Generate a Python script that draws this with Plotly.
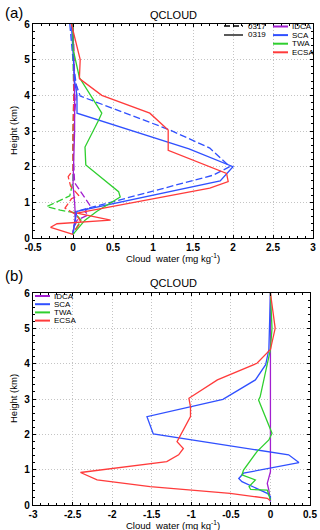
import plotly.graph_objects as go

# ---- data ----
regions = ["IDCA", "SCA", "TWA", "ECSA"]
colors = ["#a21fd0", "#3050ff", "#2fcf2f", "#ff3b3b"]
dates = ["0317", "0319"]

# (a) 0319, solid
idca_0319_x = [0.0, 0.01, 0.02, 0.02, 0.01, 0.0, 0.02, 0.03, 0.01, 0.0]
idca_0319_h = [6.0, 5.0, 4.0, 3.0, 2.0, 1.5, 1.0, 0.6, 0.3, 0.1]
sca_0319_x = [-0.02, 0.0, 0.02, 0.05, 0.05, 1.45, 2.0, 1.84, 0.05, 0.02, 0.0]
sca_0319_h = [6.0, 5.0, 4.4, 4.0, 3.5, 2.5, 2.0, 1.6, 0.75, 0.4, 0.1]
twa_0319_x = [0.0, 0.0, 0.08, 0.36, 0.32, 0.15, 0.16, 0.57, 0.59, 0.3, 0.15, 0.05, 0.0]
twa_0319_h = [6.0, 5.3, 4.5, 3.5, 3.3, 2.55, 2.05, 1.3, 1.15, 0.75, 0.5, 0.22, 0.1]
ecsa_0319_x = [-0.02, 0.09, 0.08, 0.36, 0.96, 1.19, 1.19, 1.92, 1.94, 1.71, 0.05, 0.47, -0.2, -0.28, 0.0]
ecsa_0319_h = [6.0, 5.0, 4.47, 4.0, 3.5, 3.03, 2.46, 1.81, 1.58, 1.4, 0.7, 0.5, 0.4, 0.3, 0.1]

# (a) 0317, dashed
idca_0317_x = [0.0, 0.02, 0.05, 0.02, 0.0, 0.02, 0.21, 0.15, 0.19, 0.05, 0.0, 0.0]
idca_0317_h = [6.0, 4.5, 4.2, 3.5, 2.5, 1.55, 0.92, 0.74, 0.65, 0.5, 0.2, 0.1]
sca_0317_x = [-0.04, 0.0, 0.04, 0.09, 1.21, 1.71, 1.96, 1.75, 0.03, 0.02, 0.0]
sca_0317_h = [6.0, 5.0, 4.3, 3.98, 3.03, 2.52, 2.0, 1.76, 0.74, 0.4, 0.1]
twa_0317_x = [0.0, 0.0, 0.01, 0.0, 0.0, 0.0, -0.02, -0.04, -0.33, -0.16, 0.02, 0.1, 0.02, 0.0]
twa_0317_h = [6.0, 5.0, 4.0, 3.0, 2.0, 1.6, 1.39, 1.18, 0.88, 0.78, 0.71, 0.5, 0.2, 0.1]
ecsa_0317_x = [0.0, 0.01, 0.01, 0.0, 0.0, 0.0, -0.06, -0.03, 0.07, -0.02, -0.1, 0.04, 0.1, 0.02, 0.0]
ecsa_0317_h = [6.0, 5.0, 4.0, 3.0, 2.0, 1.9, 1.72, 1.45, 1.2, 1.1, 0.84, 0.65, 0.45, 0.2, 0.1]

# (b) difference
idca_diff_x = [0.0, 0.0, -0.04, -0.02, 0.0]
idca_diff_h = [6.0, 0.94, 0.61, 0.42, 0.1]
sca_diff_x = [0.0, -0.02, -0.06, -0.19, -0.6, -1.56, -1.48, 0.23, 0.36, 0.0, -0.34, -0.4, -0.36, -0.04, 0.0, 0.0]
sca_diff_h = [6.0, 4.4, 3.97, 3.54, 2.99, 2.5, 2.01, 1.42, 1.2, 1.04, 0.9, 0.75, 0.66, 0.33, 0.24, 0.1]
twa_diff_x = [0.0, 0.02, 0.0, -0.13, -0.15, 0.02, -0.02, -0.17, -0.34, -0.36, -0.19, -0.27, -0.25, -0.04, 0.0]
twa_diff_h = [6.0, 5.0, 4.4, 3.06, 2.97, 2.03, 1.84, 1.51, 0.99, 0.85, 0.71, 0.52, 0.44, 0.42, 0.14]
ecsa_diff_x = [0.0, 0.06, 0.0, -0.17, -0.67, -1.03, -1.01, -1.01, -1.18, -1.1, -1.16, -1.31, -2.4, -2.19, -1.52, -0.51, -0.04, 0.0]
ecsa_diff_h = [6.0, 5.0, 4.4, 4.01, 3.54, 3.02, 2.78, 2.5, 1.79, 1.6, 1.42, 1.23, 0.92, 0.71, 0.52, 0.33, 0.19, 0.12]

xticks_a = [-0.5, 0, 0.5, 1, 1.5, 2, 2.5, 3]
xticks_b = [-3, -2.5, -2, -1.5, -1, -0.5, 0, 0.5]
yticks = [0, 1, 2, 3, 4, 5, 6]

a_0317 = [(idca_0317_x, idca_0317_h), (sca_0317_x, sca_0317_h), (twa_0317_x, twa_0317_h), (ecsa_0317_x, ecsa_0317_h)]
a_0319 = [(idca_0319_x, idca_0319_h), (sca_0319_x, sca_0319_h), (twa_0319_x, twa_0319_h), (ecsa_0319_x, ecsa_0319_h)]
b_diff = [(idca_diff_x, idca_diff_h), (sca_diff_x, sca_diff_h), (twa_diff_x, twa_diff_h), (ecsa_diff_x, ecsa_diff_h)]

W, H = 320, 530
ML, MR, MT, MB = 33, 7, 24, 25
PW, PH = W - ML - MR, H - MT - MB

def px(x):
    return (x - ML) / PW

def py(y):
    return (H - MB - y) / PH

fig = go.Figure()
for i, (xs, hs) in enumerate(a_0317):
    fig.add_trace(go.Scatter(x=xs, y=hs, mode='lines', xaxis='x', yaxis='y',
                             line=dict(color=colors[i], width=1.3, dash='7px,3px'),
                             showlegend=False, name=regions[i] + ' ' + dates[0]))
for i, (xs, hs) in enumerate(a_0319):
    fig.add_trace(go.Scatter(x=xs, y=hs, mode='lines', xaxis='x', yaxis='y',
                             line=dict(color=colors[i], width=1.3),
                             showlegend=False, name=regions[i] + ' ' + dates[1]))
for i, (xs, hs) in enumerate(b_diff):
    fig.add_trace(go.Scatter(x=xs, y=hs, mode='lines', xaxis='x2', yaxis='y2',
                             line=dict(color=colors[i], width=1.3),
                             showlegend=False, name=regions[i]))

tickfont = dict(family='Liberation Sans', size=10, color='black', weight='bold')
common = dict(showline=True, linecolor='black', linewidth=1.2, mirror='ticks',
              ticks='inside', ticklen=3, tickcolor='black', tickfont=tickfont,
              showgrid=True, gridcolor='#c4c4c4', griddash='1px,2px', gridwidth=1,
              zeroline=False, automargin=False,
              minor=dict(ticks='inside', ticklen=2, tickcolor='black', showgrid=False))

ya_bottom = py(238)
yb_top = py(293)
fig.update_layout(
    width=W, height=H,
    margin=dict(l=ML, r=MR, t=MT, b=MB, autoexpand=False),
    plot_bgcolor='white', paper_bgcolor='white',
    showlegend=False,
    xaxis=dict(domain=[0, 1], anchor='y', range=[-0.5, 3], tickvals=xticks_a,
               ticktext=[('%g' % v) for v in xticks_a], ticklabelstandoff=0, **common),
    yaxis=dict(domain=[ya_bottom, 1], anchor='x', range=[0, 6], tickvals=yticks, **common),
    xaxis2=dict(domain=[0, px(310)], anchor='y2', range=[-3, 0.5], tickvals=xticks_b,
                ticktext=[('%g' % v) for v in xticks_b], ticklabelstandoff=0, **common),
    yaxis2=dict(domain=[0, yb_top], anchor='x2', range=[0, 6], tickvals=yticks, **common),
)
fig.update_xaxes(minor_dtick=0.1)
fig.update_yaxes(minor_dtick=0.2)

lab = dict(family='Liberation Sans', size=9.5, color='black')
anns = []
for tag, ty, qy, xl_y, ax_top, ax_bot in [('(a)', 12, 15, 257.5, 24, 238), ('(b)', 275, 283, 524.5, 293, 505)]:
    anns.append(dict(text=tag, x=px(3), y=py(ty), xref='paper', yref='paper', xanchor='left',
                     yanchor='middle', showarrow=False, font=dict(family='Liberation Sans', size=15, color='black')))
    anns.append(dict(text='QCLOUD', x=px(173), y=py(qy), xref='paper', yref='paper', xanchor='center',
                     yanchor='middle', showarrow=False, font=dict(family='Liberation Sans', size=11, color='black')))
    anns.append(dict(text='Cloud  water (mg kg<sup>-1</sup>)', x=px(173), y=py(xl_y), xref='paper', yref='paper',
                     xanchor='center', yanchor='middle', showarrow=False, font=lab))
    anns.append(dict(text='Height (km)', x=px(13), y=py((ax_top + ax_bot) / 2), xref='paper', yref='paper',
                     xanchor='center', yanchor='middle', textangle=-90, showarrow=False, font=lab))

shapes = []
leg = dict(family='Liberation Sans', size=8, color='black')
# (a) legend: line styles
for j, (d, dash) in enumerate(zip(dates, ['6px,3px', 'solid'])):
    yy = py(26 + 9 * j)
    shapes.append(dict(type='line', xref='paper', yref='paper', x0=px(224), x1=px(243), y0=yy, y1=yy,
                       line=dict(color='black', width=1.3, dash=dash)))
    anns.append(dict(text=d, x=px(246), y=yy, xref='paper', yref='paper', xanchor='left', yanchor='middle',
                     showarrow=False, font=leg))
# (a) legend: regions
for j, r in enumerate(regions):
    yy = py(26.5 + 8.6 * j)
    shapes.append(dict(type='line', xref='paper', yref='paper', x0=px(273), x1=px(288), y0=yy, y1=yy,
                       line=dict(color=colors[j], width=2)))
    anns.append(dict(text=r, x=px(290), y=yy, xref='paper', yref='paper', xanchor='left', yanchor='middle',
                     showarrow=False, font=leg))
# (b) legend
for j, r in enumerate(regions):
    yy = py(296 + 8.2 * j)
    shapes.append(dict(type='line', xref='paper', yref='paper', x0=px(35), x1=px(50), y0=yy, y1=yy,
                       line=dict(color=colors[j], width=2)))
    anns.append(dict(text=r, x=px(52), y=yy, xref='paper', yref='paper', xanchor='left', yanchor='middle',
                     showarrow=False, font=leg))

fig.update_layout(annotations=anns, shapes=shapes)
# drop the page's default body margin so the 320x530 figure fills the window
fig.write_html("out.html", config={'displayModeBar': False},
               post_script="document.body.style.margin='0';")
